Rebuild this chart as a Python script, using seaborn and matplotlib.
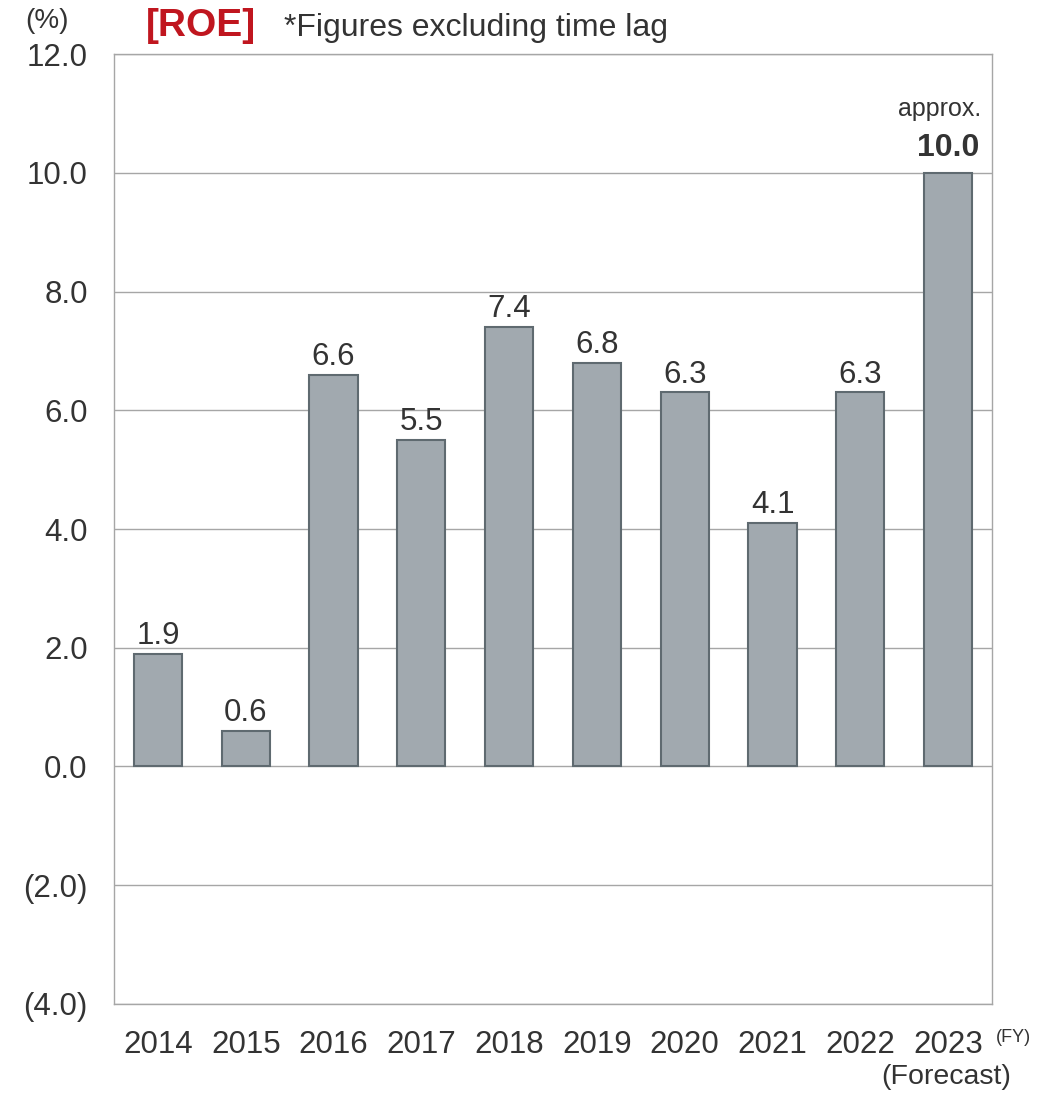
import matplotlib.pyplot as plt
import seaborn as sns
import pandas as pd

# data
years = ['2014', '2015', '2016', '2017', '2018', '2019', '2020', '2021', '2022', '2023']
roe = [1.9, 0.6, 6.6, 5.5, 7.4, 6.8, 6.3, 4.1, 6.3, 10.0]
y_ticks = [-4.0, -2.0, 0.0, 2.0, 4.0, 6.0, 8.0, 10.0, 12.0]
y_tick_labels = ['(4.0)', '(2.0)', '0.0', '2.0', '4.0', '6.0', '8.0', '10.0', '12.0']

sns.set_style("white")
plt.rcParams['font.family'] = ['Liberation Sans', 'DejaVu Sans']

text_col = '#333333'
bar_col = '#A1A9AF'
edge_col = '#5F6A70'
grid_col = '#A6A6A6'

df = pd.DataFrame({'year': years, 'roe': roe})

fig = plt.figure(figsize=(10.37, 10.94), dpi=100)
ax = fig.add_axes([0.110, 0.0823, 0.8466, 0.8683])

sns.barplot(data=df, x='year', y='roe', color=bar_col, edgecolor=edge_col,
            linewidth=1.5, width=0.55, saturation=1, ax=ax, zorder=3)

ax.set_ylim(-4, 12)
ax.set_xlim(-0.5, len(years) - 0.5)
ax.set_yticks(y_ticks)
ax.set_yticklabels(y_tick_labels)
ax.yaxis.grid(True, color=grid_col, linewidth=1)
ax.set_axisbelow(True)
ax.tick_params(axis='both', length=0, labelsize=22.5, colors=text_col)
ax.tick_params(axis='y', pad=19)
ax.tick_params(axis='x', pad=19)
ax.set_xlabel('')
ax.set_ylabel('')
for s in ax.spines.values():
    s.set_color(grid_col)
    s.set_linewidth(1)

# value labels
for i, v in enumerate(roe[:-1]):
    ax.annotate(f'{v:.1f}', (i, v), xytext=(0, 2), textcoords='offset points',
                ha='center', va='bottom', fontsize=22.5, color=text_col)
ax.annotate(f'{roe[-1]:.1f}', (9, roe[-1]), xytext=(0, 7), textcoords='offset points',
            ha='center', va='bottom', fontsize=23, color=text_col, fontweight='bold')
ax.annotate('approx.', (9, roe[-1]), xytext=(-6, 37), textcoords='offset points',
            ha='center', va='bottom', fontsize=18, color=text_col)

# titles and extra text
fig.text(47 / 1037, 1 - 21 / 1094, '(%)', ha='center', va='center', fontsize=20, color=text_col)
fig.text(146 / 1037, 1 - 26 / 1094, '[ROE]', ha='left', va='center', fontsize=28,
         fontweight='bold', color='#C0161F')
fig.text(284 / 1037, 1 - 28 / 1094, '*Figures excluding time lag', ha='left', va='center',
         fontsize=23, color=text_col)
fig.text(1013 / 1037, 1 - 1038 / 1094, '(FY)', ha='center', va='center', fontsize=13, color=text_col)
fig.text(946 / 1037, 1 - 1077 / 1094, '(Forecast)', ha='center', va='center', fontsize=20.5, color=text_col)

plt.savefig('out.png', dpi=100)
